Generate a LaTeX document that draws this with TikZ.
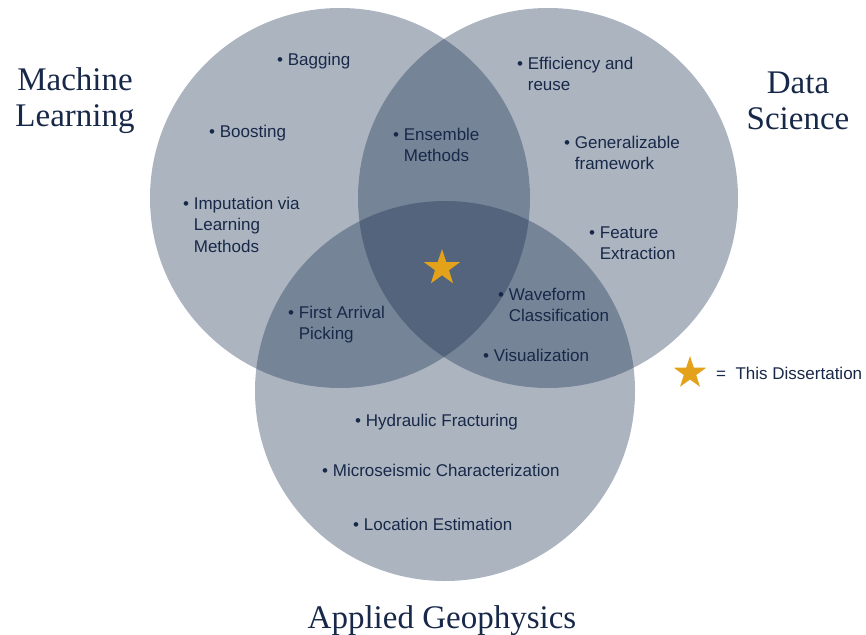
\documentclass[tikz,border=0pt]{standalone}
\usepackage{fontspec}
\setmainfont{Liberation Serif}
\newfontfamily\itemfont{Liberation Sans}
\usetikzlibrary{shapes.geometric}
\definecolor{navy}{HTML}{12294B}
\definecolor{ink}{HTML}{172848}
\definecolor{gold}{HTML}{E3A21A}
\newcommand{\bul}[1]{\textbullet\ \begin{tabular}[t]{@{}l@{}}#1\end{tabular}}
\tikzset{
  field/.style={fill=navy, fill opacity=0.35, draw=none},
  item/.style={anchor=base west, inner sep=0pt, text=ink,
    font=\itemfont\fontsize{17}{21.5}\selectfont},
  title/.style={text=ink, align=center,
    font=\fontsize{33}{36}\selectfont},
  mark star/.style={star, star points=5, star point ratio=2.6,
    fill=gold, draw=none, inner sep=0pt}
}
\begin{document}
\begin{tikzpicture}[x=1pt, y=-1pt]
  \useasboundingbox (0,0) rectangle (866,634);
  \coordinate (ML) at (340,198);
  \coordinate (DS) at (548,198);
  \coordinate (AG) at (445,391);
  \fill[field] (ML) circle [radius=190];
  \fill[field] (DS) circle [radius=190];
  \fill[field] (AG) circle [radius=190];

  \node[title] (mltitle) at (75,101) {Machine\\Learning};
  \node[title] (dstitle) at (798,101) {Data\\Science};
  \node[title, inner sep=0pt, anchor=base] (agtitle) at (442,628) {Applied Geophysics};

  % machine learning only
  \node[item] (bag) at (277,66) {\bul{Bagging}};
  \node[item] (boost) at (209,137) {\bul{Boosting}};
  \node[item] (imp) at (183,209) {\bul{Imputation via\\Learning\\Methods}};
  % data science only
  \node[item] (eff) at (517,69) {\bul{Efficiency and\\reuse}};
  \node[item] (gen) at (564,148) {\bul{Generalizable\\framework}};
  \node[item] (feat) at (589,238) {\bul{Feature\\Extraction}};
  % overlaps
  \node[item] (ens) at (393,140) {\bul{Ensemble\\Methods}};
  \node[item] (wave) at (498,300) {\bul{Waveform\\Classification}};
  \node[item] (fap) at (288,318) {\bul{First Arrival\\Picking}};
  \node[item] (vis) at (483,361) {\bul{Visualization}};
  % applied geophysics only
  \node[item] (hyd) at (355,426) {\bul{Hydraulic Fracturing}};
  \node[item] (micro) at (322,476) {\bul{Microseismic Characterization}};
  \node[item] (loc) at (353,530) {\bul{Location Estimation}};

  \node[mark star, minimum size=38] (thesis) at (442,268) {};
  \node[mark star, minimum size=34] (key) at (690,373) {};
  \node[item] (keytext) at (716,379) {=\ \ This Dissertation};
\end{tikzpicture}
\end{document}
